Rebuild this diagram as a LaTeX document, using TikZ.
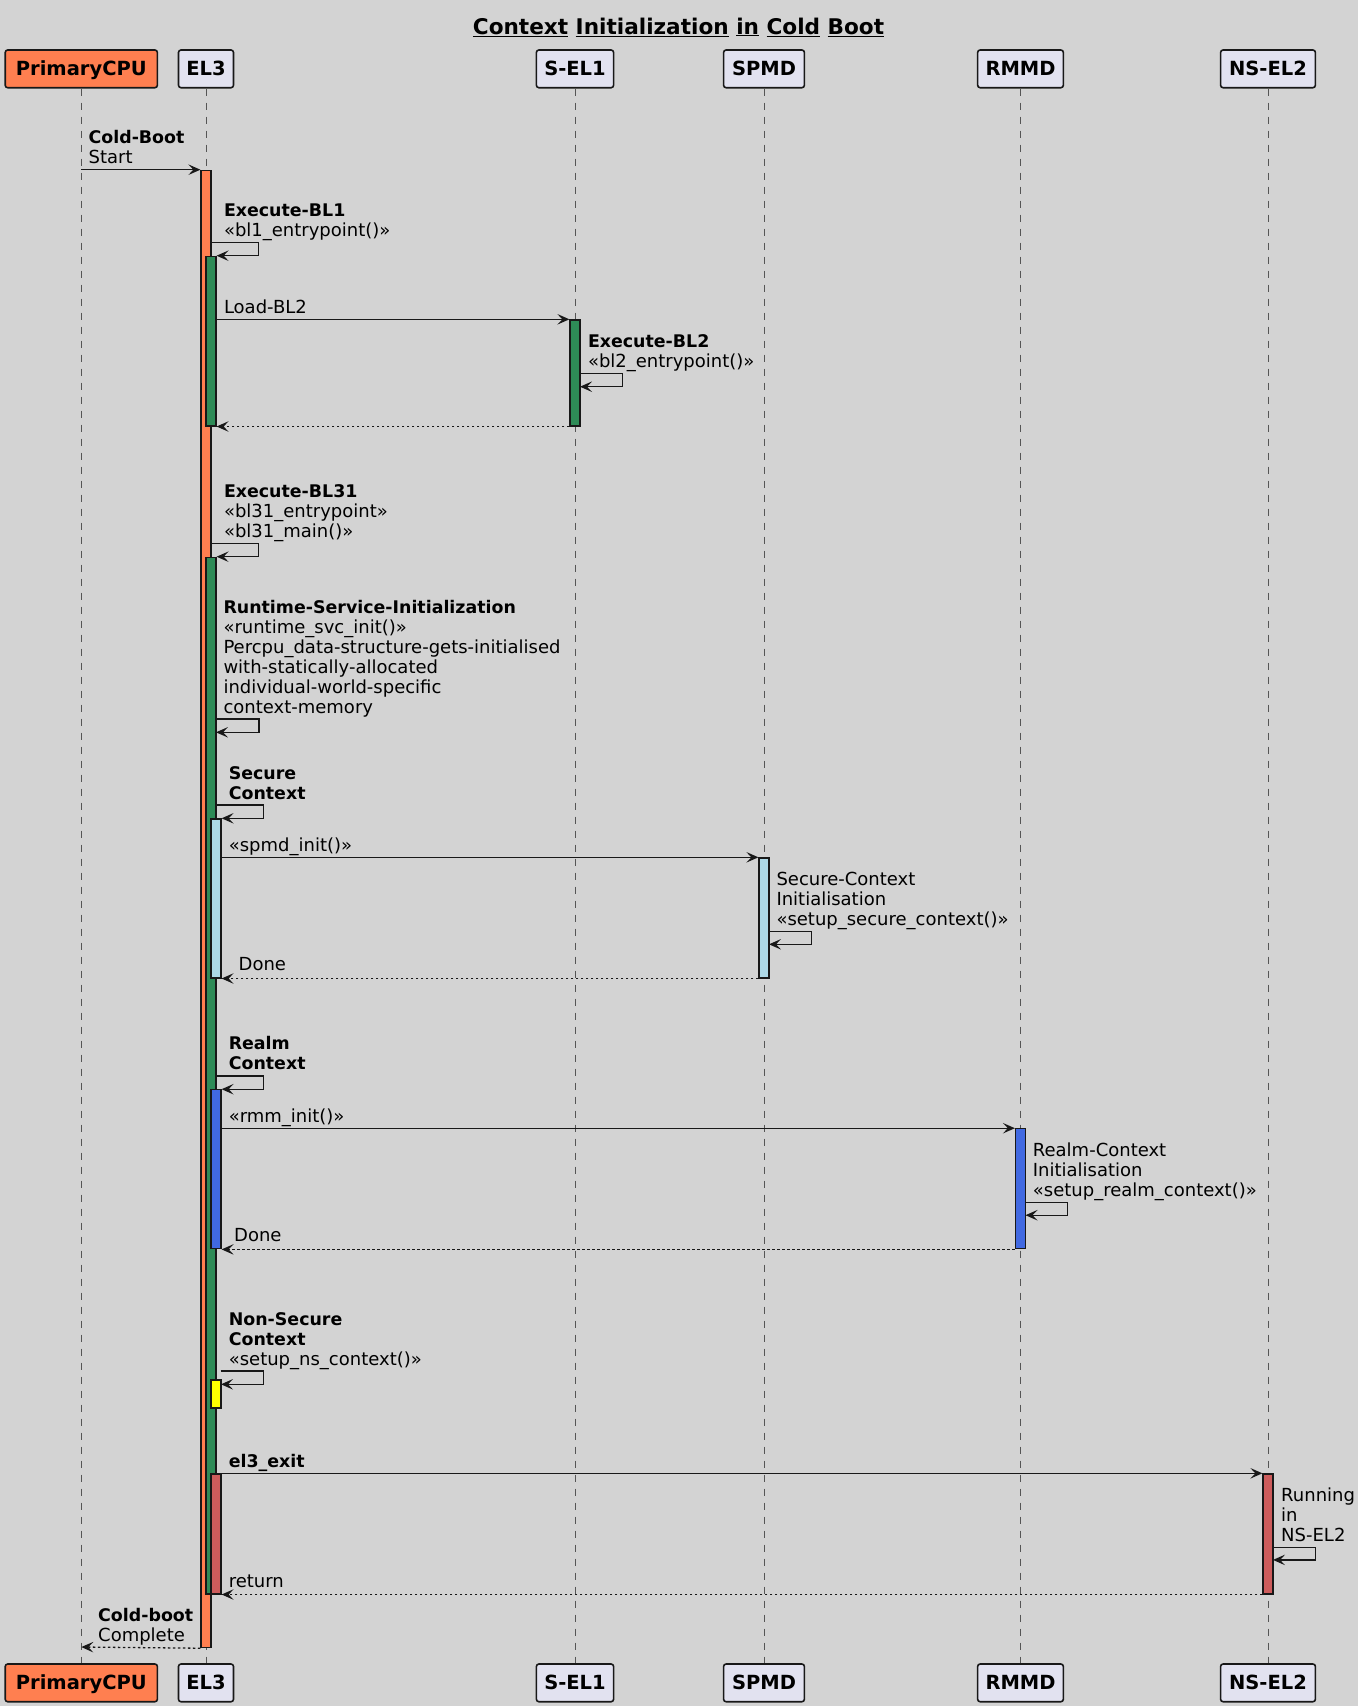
\documentclass[tikz,border=0pt]{standalone}
\usepackage{fontspec}
\setmainfont{DejaVu Sans}
\usetikzlibrary{arrows.meta}
\definecolor{bg}{HTML}{D3D3D3}
\definecolor{pfill}{HTML}{E2E2F0}
\definecolor{ln}{HTML}{181818}
\definecolor{lifec}{HTML}{555555}
\definecolor{coral}{HTML}{FF7F50}
\definecolor{seagreen}{HTML}{2E8B57}
\definecolor{lblue}{HTML}{ADD8E6}
\definecolor{rblue}{HTML}{4169E1}
\definecolor{yel}{HTML}{FFFF00}
\definecolor{ired}{HTML}{CD5C5C}
\newcommand\mlines[1]{\vtop{\baselineskip=20pt\lineskiplimit=-20pt\lineskip=0pt\halign{##\hfil\cr#1\crcr}}}
\newcommand\bl[1]{{\fontsize{17.4}{20}\selectfont\bfseries #1}}
\begin{document}
\begin{tikzpicture}[x=1pt,y=-1pt,
  msg/.style={draw=ln, line width=1.3pt, -{Stealth[length=12pt,width=10.5pt,inset=5pt]}},
  ret/.style={msg, dash pattern=on 2.5pt off 2.5pt},
  lbl/.style={anchor=base west, inner sep=0pt, font=\fontsize{18}{20}\selectfont},
  part/.style={draw=ln, line width=1.6pt, rounded corners=2.5pt, fill=pfill,
    font=\fontsize{19.5}{22}\selectfont\bfseries, text height=14.2pt, text depth=0pt,
    inner sep=0pt, minimum height=37.7pt},
  life/.style={draw=lifec, line width=0.9pt, dash pattern=on 7pt off 7pt},
  act/.style={draw=ln, line width=1.2pt, inner sep=0pt, minimum width=10pt, anchor=north, rectangle}]
\fill[bg] (0,0) rectangle (1358,1706);
\useasboundingbox (0,0) rectangle (1358,1706);

% title
\node[anchor=base, inner sep=0pt, font=\fontsize{21.6}{24}\selectfont\bfseries] (title) at (678.5,34)
  {\underline{Context} \underline{Initialization} \underline{in} \underline{Cold} \underline{Boot}};

% participants
\node[part, fill=coral, minimum width=152.2pt] (pT) at (81.3,68.85) {PrimaryCPU};
\node[part, minimum width=55pt] (eT) at (206,68.85) {EL3};
\node[part, minimum width=77.2pt] (sT) at (575,68.85) {S-EL1};
\node[part, minimum width=80.8pt] (mT) at (764,68.85) {SPMD};
\node[part, minimum width=85.7pt] (rT) at (1020.5,68.85) {RMMD};
\node[part, minimum width=94.8pt] (nT) at (1268,68.85) {NS-EL2};
\node[part, fill=coral, minimum width=152.2pt] (pB) at (81.3,1682.85) {PrimaryCPU};
\node[part, minimum width=55pt] (eB) at (206,1682.85) {EL3};
\node[part, minimum width=77.2pt] (sB) at (575,1682.85) {S-EL1};
\node[part, minimum width=80.8pt] (mB) at (764,1682.85) {SPMD};
\node[part, minimum width=85.7pt] (rB) at (1020.5,1682.85) {RMMD};
\node[part, minimum width=94.8pt] (nB) at (1268,1682.85) {NS-EL2};

% lifelines
\draw[life] (pT.south) -- (pB.north);
\draw[life] (eT.south) -- (eB.north);
\draw[life] (sT.south) -- (sB.north);
\draw[life] (mT.south) -- (mB.north);
\draw[life] (rT.south) -- (rB.north);
\draw[life] (nT.south) -- (nB.north);

% activations
\node[act, fill=coral, minimum height=1477.3pt] (or) at (206,169.7) {};
\node[act, fill=seagreen, minimum height=169.6pt] (g1) at (211,255.7) {};
\node[act, fill=seagreen, minimum height=106pt] (s1) at (575,319.3) {};
\node[act, fill=seagreen, minimum height=1036.6pt] (g2) at (211,556.7) {};
\node[act, fill=lblue, minimum height=159pt] (lb) at (216,818.3) {};
\node[act, fill=lblue, minimum height=120pt] (lbs) at (764,857.3) {};
\node[act, fill=rblue, minimum height=159pt] (bl) at (216,1089.2) {};
\node[act, fill=rblue, minimum height=120pt] (blr) at (1020.5,1128.2) {};
\node[act, fill=yel, minimum height=28pt] (ye) at (216,1379.3) {};
\node[act, fill=ired, minimum height=120pt] (re) at (216,1473.3) {};
\node[act, fill=ired, minimum height=120pt] (rn) at (1268,1473.3) {};

% messages
\draw[msg] (81.3,169.7) -- (or.north west);
\draw[msg] (211,242.3) -- (258.6,242.3) -- (258.6,255.7) -- (g1.north east);
\draw[msg] (216,319.3) -- (s1.north west);
\draw[msg] (580,373.3) -- (622.6,373.3) -- (622.6,386.7) -- (580,386.7);
\draw[ret] (s1.south west) -- (g1.south east);
\draw[msg] (211,543.3) -- (258.6,543.3) -- (258.6,556.7) -- (g2.north east);
\draw[msg] (216,719) -- (259,719) -- (259,732.3) -- (216,732.3);
\draw[msg] (216,805) -- (263.8,805) -- (263.8,818.3) -- (lb.north east);
\draw[msg] (221,857.3) -- (lbs.north west);
\draw[msg] (769,931.7) -- (811.6,931.7) -- (811.6,944.3) -- (769,944.3);
\draw[ret] (lbs.south west) -- (lb.south east);
\draw[msg] (216,1075.9) -- (263.8,1075.9) -- (263.8,1089.2) -- (bl.north east);
\draw[msg] (221,1128.2) -- (blr.north west);
\draw[msg] (1025.5,1202.6) -- (1067.7,1202.6) -- (1067.7,1215.2) -- (1025.5,1215.2);
\draw[ret] (blr.south west) -- (bl.south east);
\draw[msg] (220.5,1371) -- (263.8,1371) -- (263.8,1384.3) -- (221,1384.3);
\draw[msg] (221,1473.3) -- (rn.north west);
\draw[msg] (1273,1547.2) -- (1315.3,1547.2) -- (1315.3,1559.9) -- (1273,1559.9);
\draw[ret] (rn.south west) -- (re.south east);
\draw[ret] (or.south west) -- (81.3,1647);

% labels
\node[lbl] (l1) at (88.4,143.7) {\mlines{\bl{Cold-Boot}\cr Start}};
\node[lbl] (l2) at (223.8,216.3) {\mlines{\bl{Execute-BL1}\cr «bl1\_entrypoint()»}};
\node[lbl] (l3) at (223.8,313.3) {Load-BL2};
\node[lbl] (l4) at (587.8,347.3) {\mlines{\bl{Execute-BL2}\cr «bl2\_entrypoint()»}};
\node[lbl] (l6) at (223.8,497.3) {\mlines{\bl{Execute-BL31}\cr «bl31\_entrypoint»\cr «bl31\_main()»}};
\node[lbl] (l7) at (223.3,613) {\mlines{\bl{Runtime-Service-Initialization}\cr «runtime\_svc\_init()»\cr Percpu\_data-structure-gets-initialised\cr with-statically-allocated\cr individual-world-specific\cr context-memory}};
\node[lbl] (l8) at (228.6,779) {\mlines{\bl{Secure}\cr \bl{Context}}};
\node[lbl] (l9) at (228.6,851.3) {«spmd\_init()»};
\node[lbl] (l10) at (776.3,885.7) {\mlines{Secure-Context\cr Initialisation\cr «setup\_secure\_context()»}};
\node[lbl] (l11) at (238.5,970.7) {Done};
\node[lbl] (l12) at (228.6,1049.9) {\mlines{\bl{Realm}\cr \bl{Context}}};
\node[lbl] (l13) at (228.6,1122.2) {«rmm\_init()»};
\node[lbl] (l14) at (1032.7,1156.6) {\mlines{Realm-Context\cr Initialisation\cr «setup\_realm\_context()»}};
\node[lbl] (l15) at (234,1241.6) {Done};
\node[lbl] (l16) at (228.6,1325) {\mlines{\bl{Non-Secure}\cr \bl{Context}\cr «setup\_ns\_context()»}};
\node[lbl] (l17) at (228.6,1467.3) {\bl{el3\_exit}};
\node[lbl] (l18) at (1281,1501.2) {\mlines{Running\cr in\cr NS-EL2}};
\node[lbl] (l19) at (228.6,1587.3) {return};
\node[lbl] (l20) at (98,1621) {\mlines{\bl{Cold-boot}\cr Complete}};
\end{tikzpicture}
\end{document}
